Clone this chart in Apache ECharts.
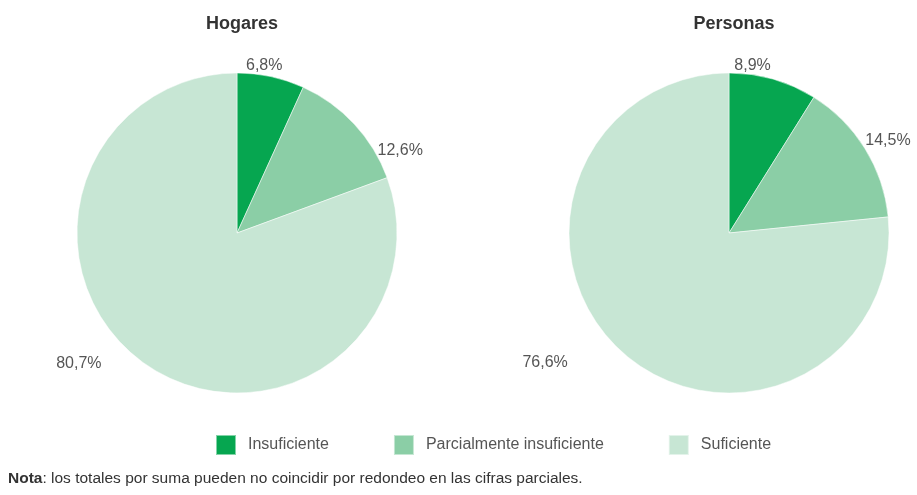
<!DOCTYPE html>
<html>
<head>
<meta charset="utf-8">
<script src="https://cdn.jsdelivr.net/npm/echarts@6/dist/echarts.min.js"></script>
<style>
  html, body { margin: 0; padding: 0; background: #fff; }
  #main { width: 917px; height: 495px; }
</style>
</head>
<body>
<div id="main"></div>
<script>
const categories = ['Insuficiente', 'Parcialmente insuficiente', 'Suficiente']
const hogares = [6.8, 12.6, 80.7]
const personas = [8.9, 14.5, 76.6]
const titles = ['Hogares', 'Personas']

const colors = ['#06a650', '#8bcea6', '#c7e6d4']
const font = '"Liberation Sans", Arial, sans-serif'
// label placement per pie: [angle offset from slice middle (deg), extra radius]
const labelShift = [
  [[-3, 10], [16, 23], [15.6, 45]],
  [[-8, 9], [1.6, 24], [12.7, 65]],
]

function fmt(v) {
  return v.toFixed(1).replace('.', ',') + '%'
}

function pieSeries(values, center, idx) {
  const r = 160
  const total = values.reduce((a, b) => a + b, 0)
  return {
    type: 'pie',
    center: center,
    radius: r,
    startAngle: 90,
    clockwise: true,
    animation: false,
    itemStyle: { borderColor: 'rgba(255,255,255,0.5)', borderWidth: 1 },
    label: {
      show: true,
      position: 'outside',
      formatter: (p) => fmt(p.value),
      color: '#555',
      fontSize: 16,
      fontFamily: font,
      overflow: 'none',
    },
    labelLine: { show: false, length: 6, length2: 0 },
    labelLayout: (p) => {
      let before = 0
      for (let i = 0; i < p.dataIndex; i++) before += values[i]
      const mid = (before + values[p.dataIndex] / 2) / total * 360
      const s = labelShift[idx][p.dataIndex]
      const a = (mid + s[0]) * Math.PI / 180
      const rr = r + s[1]
      return {
        x: center[0] + Math.sin(a) * rr,
        y: center[1] - Math.cos(a) * rr,
        align: 'center',
        verticalAlign: 'middle',
      }
    },
    emphasis: { disabled: true },
    data: values.map((v, i) => ({ name: categories[i], value: v })),
  }
}

const chart = echarts.init(document.getElementById('main'))
chart.setOption({
  color: colors,
  title: [
    { text: titles[0], left: 237, top: 10, textAlign: 'center',
      textStyle: { fontFamily: font, fontSize: 18, fontWeight: 'bold', color: '#333' } },
    { text: titles[1], left: 729, top: 10, textAlign: 'center',
      textStyle: { fontFamily: font, fontSize: 18, fontWeight: 'bold', color: '#333' } },
  ],
  legend: {
    data: categories,
    left: 210,
    top: 429,
    itemWidth: 20,
    itemHeight: 20,
    itemGap: 64,
    icon: 'rect',
    selectedMode: false,
    textStyle: { fontFamily: font, fontSize: 16, color: '#555', padding: [0, 0, 0, 7] },
  },
  graphic: [{
    type: 'text',
    left: 8,
    top: 471,
    style: {
      text: '{b|Nota}: los totales por suma pueden no coincidir por redondeo en las cifras parciales.',
      fontFamily: font,
      fontSize: 15.5,
      fill: '#333',
      rich: { b: { fontWeight: 'bold', fontFamily: font, fontSize: 15.5, fill: '#333' } },
    },
  }],
  series: [
    pieSeries(hogares, [237, 233], 0),
    pieSeries(personas, [729, 233], 1),
  ],
})
</script>
</body>
</html>
